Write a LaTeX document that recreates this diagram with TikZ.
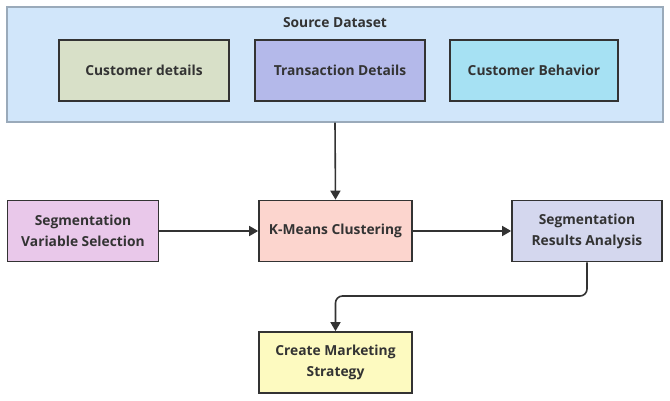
\documentclass[tikz,border=0pt]{standalone}
\usepackage{fontspec}
\setmainfont{Open Sans}
\usetikzlibrary{arrows.meta}
\definecolor{contfill}{HTML}{D1E6FA}
\definecolor{contdraw}{HTML}{9AAABA}
\definecolor{cdfill}{HTML}{D8E0C8}
\definecolor{tdfill}{HTML}{B4B9EA}
\definecolor{cbfill}{HTML}{A6E1F3}
\definecolor{svfill}{HTML}{E9C8EA}
\definecolor{kmfill}{HTML}{FCD5CE}
\definecolor{rafill}{HTML}{D4D7EE}
\definecolor{cmfill}{HTML}{FDFAC0}
\definecolor{ink}{HTML}{333333}
\tikzset{
  box/.style={draw=ink, line width=1.7pt, minimum width=151pt, minimum height=61pt, inner sep=0pt,
    align=center, font=\fontsize{13.8}{21}\selectfont\bfseries, text=ink},
  conn/.style={draw=ink, line width=1.6pt, -{Triangle[length=9pt,width=10pt]}, rounded corners=7pt}
}
\begin{document}
\begin{tikzpicture}[x=1pt,y=-1pt]
\useasboundingbox (0,0) rectangle (670,400);
\node[draw=contdraw, fill=contfill, line width=1.3pt, minimum width=656pt, minimum height=115pt, inner sep=0pt] (src) at (335,64.5) {};
\node[font=\fontsize{13.8}{16}\selectfont\bfseries, text=ink] (srct) at (335,23) {Source Dataset};
\node[box, fill=cdfill, minimum width=170pt] (cd) at (144,70.5) {Customer details};
\node[box, fill=tdfill, minimum width=170pt] (td) at (340,70.5) {Transaction Details};
\node[box, fill=cbfill, minimum width=168pt] (cb) at (534,70.5) {Customer Behavior};
\node[box, fill=svfill] (sv) at (83,231) {Segmentation\\Variable Selection};
\node[box, fill=kmfill, minimum width=153pt] (km) at (335.5,231) {K-Means Clustering};
\node[box, fill=rafill, minimum width=150pt] (ra) at (587,231) {Segmentation\\Results Analysis};
\node[box, fill=cmfill, minimum width=153pt] (cm) at (335.5,362.5) {Create Marketing\\Strategy};
\draw[conn] (src.south) -- (km.north);
\draw[conn] (sv.east) -- (km.west);
\draw[conn] (km.east) -- (ra.west);
\draw[conn] (ra.south) -- (ra.south |- 0,296) -- (cm.north |- 0,296) -- (cm.north);
\end{tikzpicture}
\end{document}
